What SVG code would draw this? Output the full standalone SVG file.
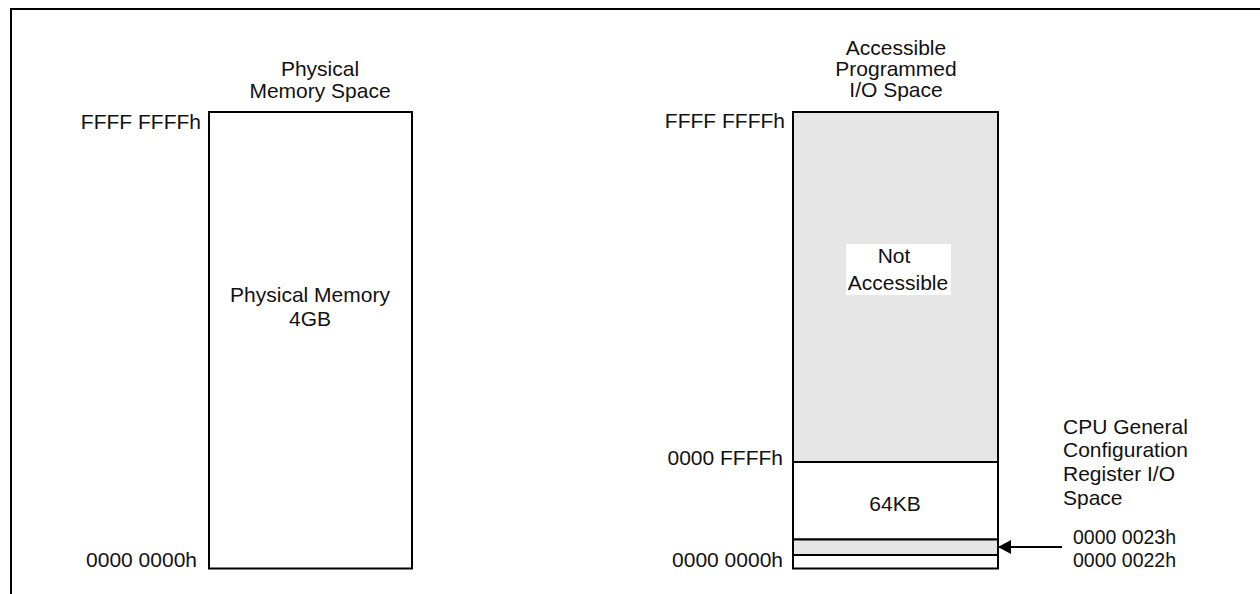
<svg xmlns="http://www.w3.org/2000/svg" width="1260" height="594" viewBox="0 0 1260 594">
<style>
text{font-family:"Liberation Sans",Arial,sans-serif;font-size:21px;fill:#111}
.c{text-anchor:middle}
.e{text-anchor:end}
.s{font-size:19.5px}
.box{fill:#fff;stroke:#000;stroke-width:2}
.gray{fill:#e6e6e6;stroke:#000;stroke-width:2}
.ln{stroke:#000;stroke-width:2;fill:none}
</style>
<defs>
<marker id="arr" markerWidth="14" markerHeight="14" refX="13" refY="7" orient="auto" markerUnits="userSpaceOnUse">
<path d="M0,0 L13,7 L0,14 Z" fill="#000"/>
</marker>
</defs>
<rect width="1260" height="594" fill="#fff"/>
<g id="frame">
<path class="ln" d="M11,594 V9 H1260"/>
</g>
<g id="physical">
<text class="c" x="320" y="76">Physical</text>
<text class="c" x="320" y="98">Memory Space</text>
<rect class="box" x="209" y="112" width="203" height="456.5"/>
<text class="c" x="310" y="302">Physical Memory</text>
<text class="c" x="310" y="326">4GB</text>
<text class="e" x="201" y="129">FFFF FFFFh</text>
<text class="e" x="197" y="567">0000 0000h</text>
</g>
<g id="io">
<text class="c" x="896" y="55">Accessible</text>
<text class="c" x="896" y="76">Programmed</text>
<text class="c" x="896" y="97">I/O Space</text>
<rect class="gray" x="793" y="112" width="205" height="350"/>
<rect fill="#fff" x="846" y="244" width="105" height="51"/>
<text class="c" x="894" y="263">Not</text>
<text class="c" x="898" y="290">Accessible</text>
<rect class="box" x="793" y="462" width="205" height="77.5"/>
<text class="c" x="895" y="511">64KB</text>
<rect class="gray" x="793" y="539.5" width="205" height="15.5"/>
<rect class="box" x="793" y="555" width="205" height="13.5"/>
<text class="e" x="785" y="128">FFFF FFFFh</text>
<text class="e" x="783" y="465">0000 FFFFh</text>
<text class="e" x="783" y="567">0000 0000h</text>
</g>
<g id="cpu-config">
<text x="1063" y="434">CPU General</text>
<text x="1063" y="457">Configuration</text>
<text x="1063" y="481">Register I/O</text>
<text x="1063" y="505">Space</text>
<text class="s" x="1073" y="544">0000 0023h</text>
<text class="s" x="1073" y="567">0000 0022h</text>
</g>
<g id="connectors">
<line x1="1062" y1="547" x2="998" y2="547" stroke="#000" stroke-width="2" marker-end="url(#arr)"/>
</g>
</svg>
